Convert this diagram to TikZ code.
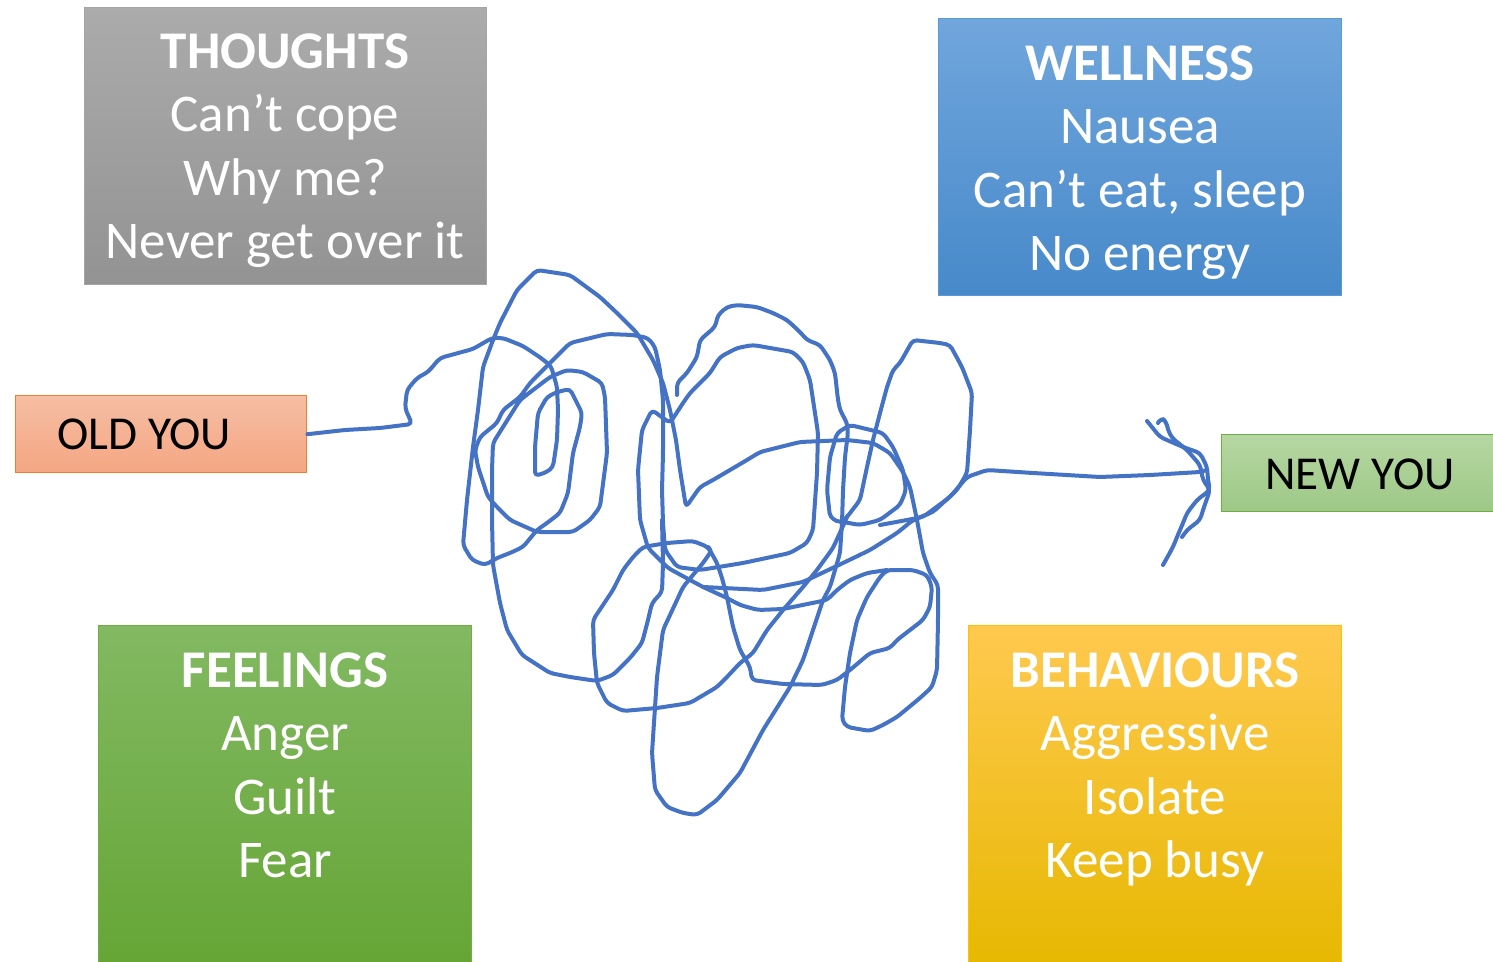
\documentclass[tikz,border=0pt]{standalone}
\usepackage{fontspec}
\setmainfont{Carlito}
\definecolor{scrib}{HTML}{4472C4}
\definecolor{thTop}{HTML}{ABABAB}\definecolor{thBot}{HTML}{939393}\definecolor{thLine}{HTML}{A5A5A5}
\definecolor{weTop}{HTML}{70A6DC}\definecolor{weBot}{HTML}{4789CA}\definecolor{weLine}{HTML}{5B9BD5}
\definecolor{feTop}{HTML}{82B962}\definecolor{feBot}{HTML}{65A535}\definecolor{feLine}{HTML}{70AD47}
\definecolor{beTop}{HTML}{FFC94F}\definecolor{beMid}{HTML}{FDC300}\definecolor{beBot}{HTML}{E6B800}\definecolor{beLine}{HTML}{FFC000}
\definecolor{olTop}{HTML}{F6BEA4}\definecolor{olBot}{HTML}{F4A682}\definecolor{olLine}{HTML}{ED7D31}
\definecolor{nyTop}{HTML}{B6D7A3}\definecolor{nyBot}{HTML}{9DC886}\definecolor{nyLine}{HTML}{70AD47}
\begin{document}
\begin{tikzpicture}[x=0.5pt,y=-0.5pt,
  box/.style={rectangle, line width=0.7pt, inner sep=0pt, anchor=north west},
  boxtext/.style={text=white, align=center, anchor=north, inner sep=0pt,
    font=\fontsize{26.5}{31.8}\selectfont},
  tagtext/.style={text=black, anchor=base west, inner sep=0pt,
    font=\fontsize{23.6}{28}\selectfont},
  scribble/.style={draw=scrib, line width=2pt, line join=round, line cap=round, rounded corners=2pt}]
\useasboundingbox (0,0) rectangle (1493,962);

% category boxes
\node[box, draw=thLine, top color=thTop, bottom color=thBot,
  minimum width=201pt, minimum height=138.5pt] (thoughts) at (84,7) {};
\node[box, draw=weLine, top color=weTop, bottom color=weBot,
  minimum width=201.5pt, minimum height=138.5pt] (wellness) at (938,18) {};
\node[box, draw=feLine, top color=feTop, bottom color=feBot,
  minimum width=186.5pt, minimum height=172.5pt] (feelings) at (98,625) {};
\node[box, draw=beLine, top color=beTop, middle color=beMid, bottom color=beBot,
  minimum width=186.5pt, minimum height=172.5pt] (behaviours) at (968,625) {};

\node[boxtext] (thoughtsT) at (285,33) {\textbf{THOUGHTS}\\Can’t cope\\Why me?\\Never get over it};
\node[boxtext] (wellnessT) at (1140,45) {\textbf{WELLNESS}\\Nausea\\Can’t eat, sleep\\No energy};
\node[boxtext] (feelingsT) at (285,652) {\textbf{FEELINGS}\\Anger\\Guilt\\Fear};
\node[boxtext] (behavioursT) at (1155,652) {\textbf{BEHAVIOURS}\\Aggressive\\Isolate\\Keep busy};

% start and end boxes
\node[box, draw=olLine, top color=olTop, bottom color=olBot,
  minimum width=145.5pt, minimum height=38.5pt] (old) at (15,395) {};
\node[tagtext] (oldT) at (57,449) {OLD YOU};
\node[box, draw=nyLine, top color=nyTop, bottom color=nyBot,
  minimum width=140pt, minimum height=38.5pt] (new) at (1221,434) {};
\node[tagtext] (newT) at (1265,489) {NEW YOU};

% the tangled path from old to new
\draw[scribble] (old.east) -- plot coordinates {(345,430) (380,428) (412,424) (405,408) (407,390) (417,378) (428,372) (440,358) (473,349) (492,338) (503,338) (523,346) (541,358) (551,366) (557,387) (558,410) (557,440) (553,467) (547,472) (535,476) (535,447) (538,413) (547,397) (557,392) (570,389) (582,413) (580,427) (573,453) (568,493) (560,513) (547,523) (537,530) (523,547) (510,553) (497,558) (485,565) (472,560) (463,545) (467,500) (473,447) (478,410) (483,367) (493,340) (500,323) (517,290) (537,270) (570,275) (600,297) (617,313) (637,333) (653,360) (663,383) (670,410) (676,440) (680,470) (686,507) (700,487) (713,480) (747,460) (760,452) (800,442) (847,440) (873,443) (890,453) (903,472) (910,487) (917,520) (923,553) (930,573) (938,585) (938,620) (937,670) (932,687) (920,698) (897,717) (883,725) (870,731) (847,727) (842,720) (845,687) (850,653) (857,620) (867,597) (880,577) (887,570) (913,570) (927,575) (932,587) (930,607) (923,620) (910,630) (897,640) (890,648) (870,653) (850,670) (837,680) (822,685) (783,684) (752,680) (750,667) (740,650) (733,627) (727,597) (722,578) (717,563) (708,547) (693,541) (667,543) (643,547) (633,557) (623,570) (613,590) (593,620) (594,653) (597,683) (607,703) (623,711) (657,708) (690,703) (717,687) (727,677) (740,663) (753,653) (767,630) (783,610) (803,587) (817,570) (833,548) (843,526) (847,517)};
\draw[scribble] plot coordinates {(662,520) (663,563) (662,592) (652,603) (648,620) (642,643) (630,658) (613,675) (597,681) (570,677) (550,673) (522,655) (507,630) (500,603) (493,565) (492,520) (492,470) (493,443) (503,427) (520,400) (550,377) (567,370) (583,372) (602,383) (605,397) (607,453) (600,507) (590,520) (573,532) (537,532) (510,520) (497,507) (488,497) (478,467) (475,450) (480,437) (497,423) (503,410) (520,397) (530,383) (550,363) (563,350) (570,343) (607,334) (633,335) (648,338) (655,347) (660,370) (663,400) (663,453) (662,490) (663,523) (665,550) (677,567) (700,570) (743,563) (790,553) (807,543) (813,530) (817,473) (818,433) (810,380) (803,362) (793,352) (753,345) (737,348) (720,357) (710,373) (690,393) (683,403) (670,423) (652,410) (642,430) (638,470) (640,520) (648,548) (668,568) (690,580) (703,587) (727,598) (740,605) (758,610) (783,609) (827,600) (837,590) (850,580) (867,573) (887,570)};
\draw[scribble] plot coordinates {(677,395) (677,383) (687,373) (697,357) (700,340) (715,327) (718,315) (727,307) (737,305) (757,307) (773,313) (787,320) (800,332) (807,340) (820,345) (830,360) (835,373) (838,400) (840,410) (847,423) (848,433) (845,457) (843,490) (842,523) (840,553) (830,587) (823,600) (813,630) (803,660) (790,687) (763,730) (740,773) (717,800) (697,815) (683,813) (667,807) (655,790) (652,753) (657,677) (663,630) (677,600) (683,587) (703,563) (712,550) (708,547)};
\draw[scribble] plot coordinates {(703,587) (763,590) (803,582) (843,563) (870,550) (897,533) (913,520) (933,512) (957,490) (967,473) (970,430) (972,393) (962,367) (950,345) (940,343) (913,340) (900,363) (893,370) (887,387) (880,413) (873,440) (867,467) (860,500) (847,517) (840,523) (830,517) (827,490) (830,457) (837,433) (850,425) (883,433) (893,447) (903,470) (906,490) (900,505) (880,520) (860,525) (843,522)};
\draw[scribble] plot coordinates {(880,525) (923,517) (950,497) (967,477) (987,470) (1033,473) (1100,477) (1150,475) (1200,472) (1207,470)};
\coordinate (tip) at (1210,490);
\draw[scribble] plot coordinates {(1147,421) (1160,437) (1183,447) (1200,453) (1207,467) (1208,480)} -- (tip) -- plot coordinates {(1197,500) (1187,513) (1183,523) (1177,537) (1173,547) (1163,565)};
\draw[scribble] plot coordinates {(1158,423) (1161,418) (1166,421) (1168,430) (1172,438) (1187,450) (1200,465) (1203,480)} -- (tip) -- plot coordinates {(1203,510) (1200,520) (1187,530) (1182,537)};
\end{tikzpicture}
\end{document}
